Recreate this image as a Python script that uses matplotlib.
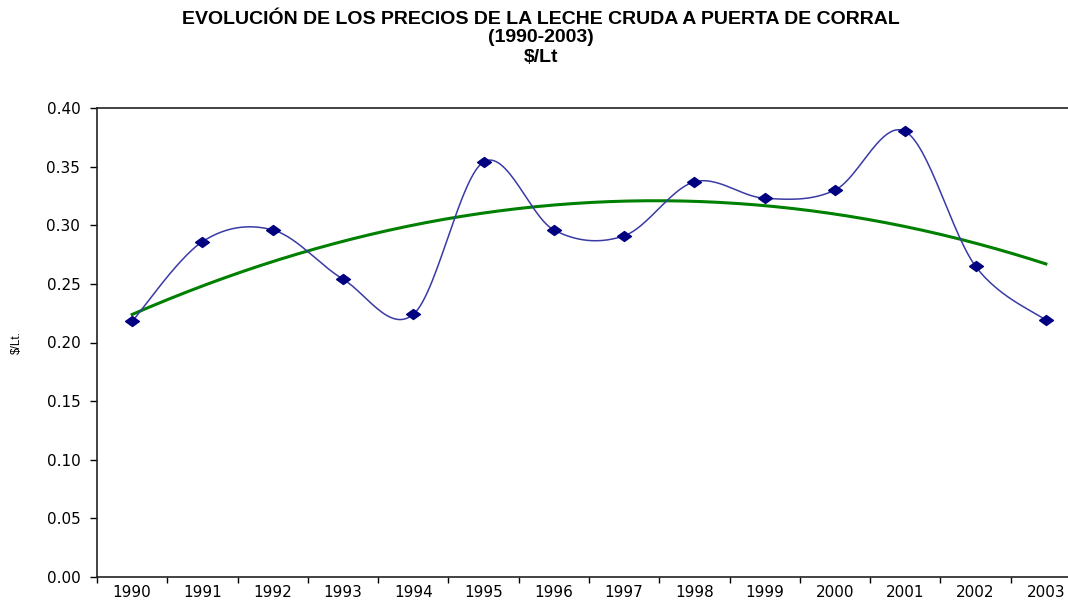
import numpy as np
import matplotlib
matplotlib.use("Agg")
import matplotlib.pyplot as plt

# datos
anios = ["1990", "1991", "1992", "1993", "1994", "1995", "1996",
         "1997", "1998", "1999", "2000", "2001", "2002", "2003"]
precios = [0.218, 0.286, 0.296, 0.254, 0.224, 0.354, 0.296,
           0.291, 0.337, 0.323, 0.330, 0.380, 0.265, 0.219]
yticks = [0.0, 0.05, 0.10, 0.15, 0.20, 0.25, 0.30, 0.35, 0.40]


def curva_suavizada(x, y, pasos=30):
    """Curva tipo Excel (Catmull-Rom / Bezier) que pasa por los puntos."""
    x = np.asarray(x, float)
    y = np.asarray(y, float)
    n = len(x)
    xs, ys = [], []
    for i in range(n - 1):
        p0 = np.array([x[max(i - 1, 0)], y[max(i - 1, 0)]])
        p1 = np.array([x[i], y[i]])
        p2 = np.array([x[i + 1], y[i + 1]])
        p3 = np.array([x[min(i + 2, n - 1)], y[min(i + 2, n - 1)]])
        c1 = p1 + (p2 - p0) / 6.0
        c2 = p2 - (p3 - p1) / 6.0
        t = np.linspace(0, 1, pasos)[:, None]
        b = ((1 - t) ** 3) * p1 + 3 * ((1 - t) ** 2) * t * c1 + 3 * (1 - t) * t ** 2 * c2 + t ** 3 * p2
        xs.extend(b[:, 0])
        ys.extend(b[:, 1])
    return np.array(xs), np.array(ys)


x = np.arange(len(anios))
fig = plt.figure(figsize=(10.68, 6.03), dpi=100)
ax = fig.add_axes([97 / 1068, 1 - 577 / 603, (1081 - 97) / 1068, (577 - 108) / 603])

# linea suavizada con marcadores (rombos algo achatados, como en Excel)
rombo = [(-1, 0), (0, 0.72), (1, 0), (0, -0.72), (-1, 0)]
xs, ys = curva_suavizada(x, precios)
ax.plot(xs, ys, color="#3a3aa6", linewidth=1.1, zorder=3)
ax.plot(x, precios, linestyle="none", marker=rombo, markersize=10,
        color="#000080", zorder=4)

# tendencia polinomica (grado 2)
coef = np.polyfit(x, precios, 2)
xt = np.linspace(x[0], x[-1], 200)
ax.plot(xt, np.polyval(coef, xt), color="#008000", linewidth=2.2, zorder=2)

ax.set_xlim(-0.5, len(anios) - 0.5)
ax.set_ylim(0, 0.40)
ax.set_yticks(yticks)
ax.set_yticklabels([f"{v:.2f}" for v in yticks])
ax.set_xticks(np.arange(-0.5, len(anios)), labels=[])
ax.set_xticks(x, labels=anios, minor=True)
ax.tick_params(axis="x", which="major", length=4, direction="out", width=1)
ax.tick_params(axis="x", which="minor", length=0, pad=6)
ax.tick_params(axis="y", length=5, direction="out", pad=7, width=1)
for lbl in ax.get_xticklabels(minor=True) + ax.get_yticklabels():
    lbl.set_fontfamily("DejaVu Sans")
    lbl.set_fontsize(11)
for s in ax.spines.values():
    s.set_linewidth(1.2)
    s.set_color("#222222")

fig.text(17 / 1068, 1 - 343 / 603, "$/Lt.", rotation=90, ha="center", va="center",
         fontsize=8.5, family="Liberation Sans")
titulo = ["EVOLUCIÓN DE LOS PRECIOS DE LA LECHE CRUDA A PUERTA DE CORRAL",
          "(1990-2003)", "$/Lt"]
for i, t in enumerate(titulo):
    fig.text(541 / 1068, 1 - (19 + 19 * i) / 603, t, ha="center", va="center",
             fontsize=14, fontweight="bold", family="Liberation Sans")

fig.savefig("out.png", dpi=100)
